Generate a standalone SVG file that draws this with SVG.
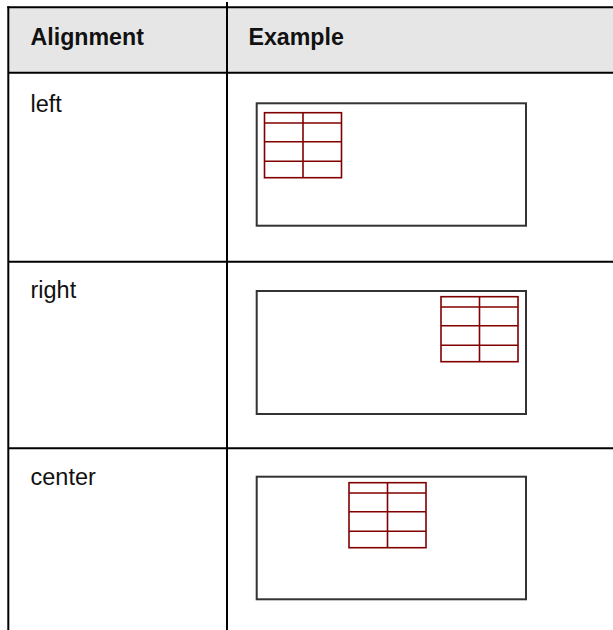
<svg xmlns="http://www.w3.org/2000/svg" width="613" height="630" viewBox="0 0 613 630">
<style>
.grid{stroke:#000;stroke-width:2;fill:none}
.hdr{font-family:"Liberation Sans",Arial,sans-serif;font-weight:bold;font-size:23.2px;fill:#111}
.cell{font-family:"Liberation Sans",Arial,sans-serif;font-size:23.5px;fill:#111}
.box{fill:#fff;stroke:#333;stroke-width:2}
.mini{fill:none;stroke:#800000;stroke-width:1.6}
</style>
<defs>
<g id="minitable">
<rect class="mini" x="0" y="0" width="77" height="65"/>
<line class="mini" x1="0" y1="10.3" x2="77" y2="10.3"/>
<line class="mini" x1="0" y1="29" x2="77" y2="29"/>
<line class="mini" x1="0" y1="48.5" x2="77" y2="48.5"/>
<line class="mini" x1="38.5" y1="0" x2="38.5" y2="65"/>
</g>
</defs>
<rect x="0" y="0" width="613" height="630" fill="#fff"/>
<rect x="8" y="7.3" width="605" height="65.4" fill="#e6e6e6"/>
<g id="table-grid">
<line class="grid" x1="7.3" y1="7.3" x2="613" y2="7.3"/>
<line class="grid" x1="8" y1="72.7" x2="613" y2="72.7"/>
<line class="grid" x1="8" y1="261.7" x2="613" y2="261.7"/>
<line class="grid" x1="8" y1="448.3" x2="613" y2="448.3"/>
<line class="grid" x1="8.3" y1="6.3" x2="8.3" y2="630"/>
<line class="grid" x1="227" y1="2" x2="227" y2="630"/>
</g>
<g id="header">
<text class="hdr" x="30.5" y="45">Alignment</text>
<text class="hdr" x="248.5" y="45">Example</text>
</g>
<g id="row-left">
<text class="cell" x="30.5" y="111.7">left</text>
<rect class="box" x="256.7" y="103.3" width="269.3" height="122.4"/>
<use href="#minitable" x="264.5" y="112.7"/>
</g>
<g id="row-right">
<text class="cell" x="30.5" y="298.3">right</text>
<rect class="box" x="256.7" y="291" width="269.3" height="123"/>
<use href="#minitable" x="441" y="296.7"/>
</g>
<g id="row-center">
<text class="cell" x="30.5" y="485">center</text>
<rect class="box" x="256.7" y="476.7" width="269.3" height="122.6"/>
<use href="#minitable" x="349" y="482.7"/>
</g>
</svg>
